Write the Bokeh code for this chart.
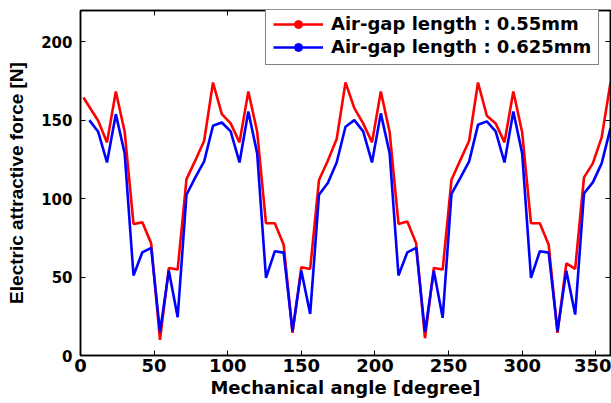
from bokeh.plotting import figure
from bokeh.models import (Range1d, FixedTicker, LinearAxis, Legend, LegendItem,
                          CustomJSTickFormatter, ColumnDataSource)
from bokeh.embed import file_html
from bokeh.resources import INLINE

# ---- data ----
angle_blue = [6, 12, 18, 24, 30, 36, 42, 48, 54, 60, 66, 72, 78, 84, 90,
              96, 102, 108, 114, 120, 126, 132, 138, 144, 150, 156, 162, 168, 174, 180,
              186, 192, 198, 204, 210, 216, 222, 228, 234, 240, 246, 252, 258, 264, 270,
              276, 282, 288, 294, 300, 306, 312, 318, 324, 330, 336, 342, 348, 354, 360]
force_0625 = [150.1, 142.7, 123.1, 153.9, 128.9, 51.0, 65.8, 68.6, 14.9, 54.1, 24.4, 102.5, 113.6, 123.8, 146.5,
              148.6, 142.9, 123.1, 155.6, 128.9, 49.5, 66.5, 65.6, 15.5, 54.1, 26.5, 102.5, 110.0, 123.1, 145.9,
              150.1, 142.9, 123.1, 154.4, 128.9, 51.0, 65.8, 68.6, 14.9, 54.1, 24.0, 103.0, 113.2, 123.8, 147.1,
              149.3, 142.9, 123.1, 155.6, 128.9, 49.5, 66.5, 65.6, 15.5, 54.1, 26.1, 103.4, 110.4, 122.5, 145.0]

angle_red = [2, 12, 18, 24, 30, 36, 42, 48, 54, 60, 66, 72, 78, 84, 90,
             96, 102, 108, 114, 120, 126, 132, 138, 144, 150, 156, 162, 168, 174, 180,
             186, 192, 198, 204, 210, 216, 222, 228, 234, 240, 246, 252, 258, 264, 270,
             276, 282, 288, 294, 300, 306, 312, 318, 324, 330, 336, 342, 348, 354, 360]
force_055 = [164.5, 149.7, 135.9, 168.4, 142.7, 83.9, 84.9, 71.5, 10.0, 55.8, 54.8, 112.5, 124.4, 136.9, 174.1,
             153.9, 148.0, 135.9, 168.4, 142.7, 84.3, 84.3, 70.7, 14.4, 56.3, 55.2, 111.9, 124.2, 138.0, 174.1,
             157.7, 148.0, 135.9, 168.4, 142.3, 83.9, 85.4, 71.5, 11.0, 55.8, 54.8, 112.1, 124.6, 136.9, 174.1,
             152.9, 148.0, 135.9, 168.4, 142.3, 84.3, 84.3, 70.7, 14.4, 58.8, 55.2, 113.6, 122.5, 139.1, 174.1]

x_ticks = [0, 50, 100, 150, 200, 250, 300, 350]
y_ticks = [0, 50, 100, 150, 200]
label_055 = "Air-gap length : 0.55mm"
label_0625 = "Air-gap length : 0.625mm"
x_title = "Mechanical angle [degree]"
y_title = "Electric attractive force [N]"

TICK_FONT = "DejaVu Sans"

p = figure(width=611, height=403, output_backend="svg", toolbar_location=None,
           x_range=Range1d(0, 360), y_range=Range1d(0, 220),
           min_border_left=80, min_border_right=1, min_border_top=10, min_border_bottom=48,
           x_axis_label=x_title, y_axis_label=y_title)

p.grid.visible = False
p.outline_line_color = "black"
p.outline_line_width = 1.5
p.background_fill_color = "white"
p.border_fill_color = "white"

for ax in (p.xaxis[0], p.yaxis[0]):
    ax.axis_line_color = "black"
    ax.axis_line_width = 1.5
    ax.major_tick_in = 5
    ax.major_tick_out = 0
    ax.major_tick_line_color = "black"
    ax.minor_tick_line_color = None
    ax.major_label_text_font = TICK_FONT
    ax.major_label_text_font_style = "bold"
    ax.major_label_text_color = "black"
    ax.axis_label_text_font_style = "bold"
    ax.axis_label_text_color = "black"

p.xaxis[0].ticker = FixedTicker(ticks=x_ticks)
p.yaxis[0].ticker = FixedTicker(ticks=y_ticks)
p.xaxis[0].major_label_text_font_size = "18px"
p.xaxis[0].major_label_standoff = 3
p.xaxis[0].axis_label_text_font = "DejaVu Sans"
p.xaxis[0].axis_label_text_font_size = "18px"
p.xaxis[0].axis_label_standoff = 2
p.yaxis[0].major_label_text_font_size = "15px"
p.yaxis[0].major_label_standoff = 8
p.yaxis[0].axis_label_text_font = "Liberation Sans"
p.yaxis[0].axis_label_text_font_size = "19px"
p.yaxis[0].axis_label_standoff = 11

# box axes (top / right) with inward ticks, no labels
blank = CustomJSTickFormatter(code="return ''")
top = LinearAxis(ticker=FixedTicker(ticks=x_ticks), formatter=blank, major_label_text_font_size="0px",
                 major_tick_in=5, major_tick_out=0, minor_tick_line_color=None,
                 major_label_standoff=0, axis_line_color="black", axis_line_width=1.5)
right = LinearAxis(ticker=FixedTicker(ticks=y_ticks), formatter=blank, major_label_text_font_size="0px",
                   major_tick_in=5, major_tick_out=0, minor_tick_line_color=None,
                   major_label_standoff=0, axis_line_color="black", axis_line_width=1.5)
p.add_layout(top, "above")
p.add_layout(right, "right")

red_src = ColumnDataSource(data=dict(x=angle_red, y=force_055))
blue_src = ColumnDataSource(data=dict(x=angle_blue, y=force_0625))

r_line = p.line("x", "y", source=red_src, line_color="#ff0000", line_width=2.6)
b_line = p.line("x", "y", source=blue_src, line_color="#0000ff", line_width=2.6)

# point markers (MATLAB '.' style): not drawn in the plot, only as the legend sample
r_dot = p.scatter("x", "y", source=red_src, marker="circle", size=6,
                  fill_color="#ff0000", line_color="#ff0000", visible=False)
b_dot = p.scatter("x", "y", source=blue_src, marker="circle", size=6,
                  fill_color="#0000ff", line_color="#0000ff", visible=False)

legend = Legend(items=[LegendItem(label=label_055, renderers=[r_line, r_dot]),
                       LegendItem(label=label_0625, renderers=[b_line, b_dot])],
                location=(185, 290), glyph_width=50, glyph_height=20, label_height=20,
                label_standoff=8, padding=7, spacing=2, margin=0,
                border_line_color="black", border_line_width=1.2,
                background_fill_color="white", background_fill_alpha=1.0,
                label_text_font="DejaVu Sans", label_text_font_style="bold",
                label_text_font_size="18px", label_text_color="black")
p.add_layout(legend)

open("out.html", "w").write(file_html(p, INLINE))
